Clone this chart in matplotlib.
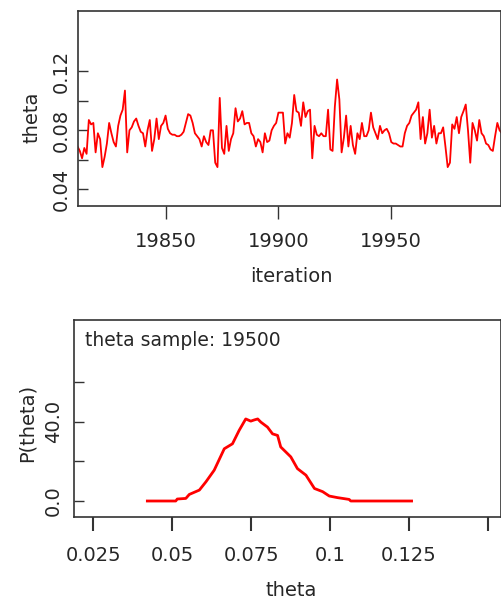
import matplotlib
matplotlib.use("Agg")
import matplotlib.pyplot as plt
import numpy as np

# ---- data ----
iter_start = 19811
theta_trace = [
    0.069, 0.066, 0.061, 0.068, 0.064, 0.087, 0.084, 0.085, 0.065, 0.078,
    0.074, 0.055, 0.062, 0.071, 0.085, 0.078, 0.072, 0.069, 0.083, 0.090,
    0.094, 0.107, 0.065, 0.080, 0.082, 0.086, 0.088, 0.083, 0.079, 0.078,
    0.069, 0.080, 0.087, 0.066, 0.074, 0.088, 0.074, 0.083, 0.085, 0.090,
    0.081, 0.078, 0.077, 0.077, 0.076, 0.076, 0.077, 0.079, 0.085, 0.091,
    0.090, 0.085, 0.078, 0.076, 0.074, 0.069, 0.076, 0.072, 0.070, 0.080,
    0.080, 0.058, 0.055, 0.102, 0.068, 0.064, 0.083, 0.066, 0.074, 0.078,
    0.095, 0.086, 0.088, 0.093, 0.084, 0.085, 0.085, 0.078, 0.076, 0.069,
    0.074, 0.072, 0.065, 0.078, 0.072, 0.073, 0.080, 0.083, 0.085, 0.092,
    0.092, 0.092, 0.071, 0.078, 0.075, 0.085, 0.104, 0.093, 0.092, 0.083,
    0.099, 0.089, 0.093, 0.094, 0.061, 0.083, 0.077, 0.076, 0.078, 0.076,
    0.076, 0.094, 0.067, 0.066, 0.096, 0.1145, 0.101, 0.065, 0.075, 0.090,
    0.069, 0.083, 0.070, 0.064, 0.078, 0.074, 0.085, 0.076, 0.076, 0.080,
    0.092, 0.082, 0.078, 0.074, 0.083, 0.078, 0.080, 0.081, 0.078, 0.072,
    0.071, 0.071, 0.070, 0.069, 0.069, 0.078, 0.083, 0.085, 0.090, 0.092,
    0.094, 0.099, 0.074, 0.089, 0.071, 0.078, 0.094, 0.075, 0.083, 0.071,
    0.078, 0.078, 0.082, 0.069, 0.055, 0.058, 0.084, 0.081, 0.089, 0.078,
    0.089, 0.093, 0.0975, 0.080, 0.058, 0.085, 0.080, 0.073, 0.087, 0.078,
    0.076, 0.071, 0.070, 0.067, 0.066, 0.076, 0.085, 0.080, 0.078,
]
iterations = np.arange(iter_start, iter_start + len(theta_trace))

dens_x = [0.0421, 0.0511, 0.0516, 0.0543, 0.0554, 0.0586, 0.0607, 0.0633,
          0.0665, 0.0691, 0.0712, 0.0733, 0.0749, 0.0760, 0.0771, 0.0781,
          0.0802, 0.0818, 0.0834, 0.0844, 0.0876, 0.0897, 0.0924, 0.0951,
          0.0977, 0.0998, 0.1024, 0.1061, 0.1066, 0.1259]
dens_y = [0.0, 0.0, 1.0, 1.3, 3.3, 5.5, 9.7, 15.5,
          26.3, 28.8, 35.5, 41.3, 40.2, 40.8, 41.3, 39.7,
          37.2, 33.8, 33.0, 27.2, 22.2, 16.3, 13.0, 6.3,
          4.7, 2.5, 1.7, 0.8, 0.0, 0.0]

top_xticks = [19850, 19900, 19950]
top_yticks = [0.04, 0.06, 0.08, 0.10, 0.12]
top_yticklabels = ["0.04", "", "0.08", "", "0.12"]
bot_xticks = [0.025, 0.05, 0.075, 0.1, 0.125, 0.15]
bot_xticklabels = ["0.025", "0.05", "0.075", "0.1", "0.125", ""]
bot_yticks = [0, 20, 40, 60]
bot_yticklabels = ["0.0", "", "40.0", ""]

# ---- figure ----
plt.rcParams['font.family'] = ['DejaVu Sans']
W, H = 501, 600
fig = plt.figure(figsize=(W / 100, H / 100), dpi=100)
txt = '#262626'
spc = '#333333'

def px_axes(l, t, r, b):
    return fig.add_axes([l / W, 1 - b / H, (r - l) / W, (b - t) / H])

# top trace plot
ax1 = px_axes(78, 11, 500.5, 206)
ax1.plot(iterations, theta_trace, color='#ff0000', lw=1.3)
ax1.set_xlim(19811.2, 19998.4)
ax1.set_ylim(0.0286, 0.161)
ax1.set_xticks(top_xticks)
ax1.set_xticklabels([str(t) for t in top_xticks])
ax1.set_yticks(top_yticks)
ax1.set_yticklabels(top_yticklabels, rotation=90, va='center', ha='right')
ax1.tick_params(axis='x', direction='out', length=9, width=1, pad=10,
                labelsize=14, colors=spc, labelcolor=txt)
ax1.tick_params(axis='y', direction='in', length=7, width=1, pad=5,
                labelsize=14, colors=spc, labelcolor=txt)
ax1.set_xlabel('iteration', fontsize=14, color=txt)
ax1.xaxis.set_label_coords((291.7 - 78) / (500.5 - 78), 1 - (277 - 11) / (206 - 11))
ax1.xaxis.label.set_va('center')
ax1.set_ylabel('theta', fontsize=14, color=txt)
ax1.yaxis.set_label_coords((32 - 78) / (500.5 - 78), 1 - (117 - 11) / (206 - 11))
ax1.yaxis.label.set_va('center')
for s in ax1.spines.values():
    s.set_color(spc)
    s.set_linewidth(1.2)

# bottom density plot
ax2 = px_axes(74, 320, 500.5, 516.7)
ax2.plot(dens_x, dens_y, color='#ff0000', lw=2.0)
ax2.set_xlim(0.01884, 0.1541)
ax2.set_ylim(-7.9, 91.1)
ax2.set_xticks(bot_xticks)
ax2.set_xticklabels(bot_xticklabels)
ax2.set_yticks(bot_yticks)
ax2.set_yticklabels(bot_yticklabels, rotation=90, va='center', ha='right')
ax2.tick_params(axis='x', direction='out', length=10, width=1.5, pad=11,
                labelsize=14, colors=spc, labelcolor=txt)
ax2.tick_params(axis='y', direction='in', length=7, width=1, pad=8,
                labelsize=14, colors=spc, labelcolor=txt)
ax2.set_xlabel('theta', fontsize=14, color=txt)
ax2.xaxis.set_label_coords((291 - 74) / (500.5 - 74), 1 - (590 - 320) / (516.7 - 320))
ax2.xaxis.label.set_va('center')
ax2.set_ylabel('P(theta)', fontsize=14, color=txt)
ax2.yaxis.set_label_coords((27 - 74) / (500.5 - 74), 1 - (423 - 320) / (516.7 - 320))
ax2.yaxis.label.set_va('center')
ax2.text((85 - 74) / (500.5 - 74), 1 - (341 - 320) / (516.7 - 320),
         'theta sample: 19500', transform=ax2.transAxes, fontsize=13.5,
         color=txt, ha='left', va='center')
for s in ax2.spines.values():
    s.set_color(spc)
    s.set_linewidth(1.2)

fig.savefig('out.png', dpi=100)
